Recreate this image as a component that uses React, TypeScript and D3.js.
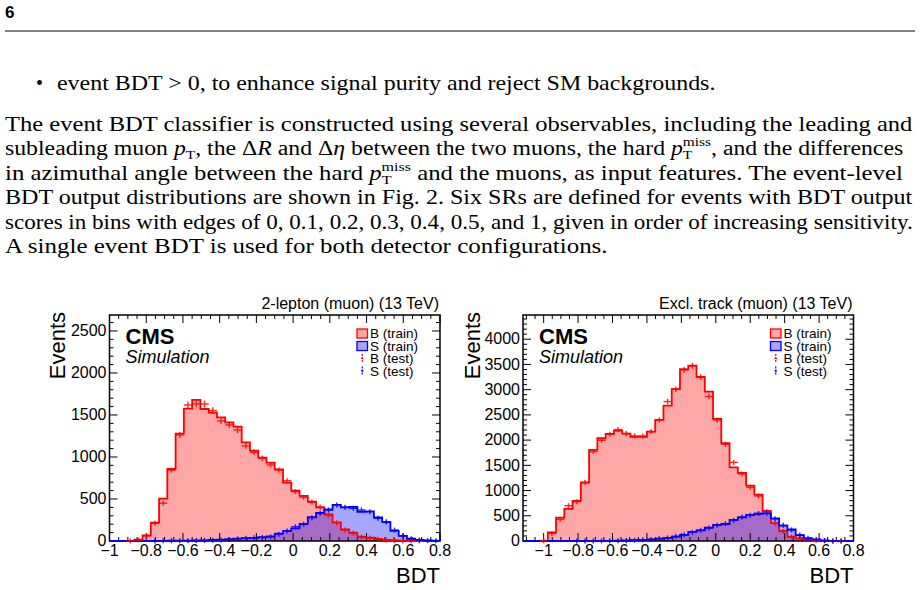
import React, { useLayoutEffect, useRef } from "react";
import * as d3 from "d3";

// ---------------- data ----------------
const N_BINS = 40;
const leftRange = [-1, 0.8];
const rightRange = [-1.12, 0.8];
const leftYMax = 2690;
const rightYMax = 4480;

const xTickValues = [-1, -0.8, -0.6, -0.4, -0.2, 0, 0.2, 0.4, 0.6, 0.8];
const xTickLabels = ["−1", "−0.8", "−0.6", "−0.4", "−0.2", "0", "0.2", "0.4", "0.6", "0.8"];
const leftYTickValues = [0, 500, 1000, 1500, 2000, 2500];
const rightYTickValues = [0, 500, 1000, 1500, 2000, 2500, 3000, 3500, 4000];

const leftBTrain = [0, 0, 2, 15, 67, 218, 504, 857, 1278, 1575, 1679, 1571, 1528, 1472, 1413, 1361, 1175, 1075, 992, 932, 853, 694, 599, 536, 468, 401, 317, 222, 139, 99, 52, 40, 24, 12, 8, 4, 2, 1, 0, 0];
const leftSTrain = [0, 0, 0, 0, 1, 1, 2, 3, 3, 4, 6, 8, 12, 16, 22, 28, 34, 38, 45, 55, 88, 120, 150, 205, 285, 335, 375, 430, 400, 405, 348, 352, 280, 225, 120, 60, 27, 12, 6, 3];
const leftBTest = [0, 0, 1, 12, 60, 212, 450, 843, 1262, 1619, 1631, 1631, 1552, 1429, 1381, 1321, 1131, 1056, 985, 905, 845, 718, 587, 520, 460, 405, 309, 218, 131, 91, 48, 36, 22, 12, 7, 4, 2, 1, 0, 0];
const leftSTest = [0, 0, 0, 0, 0, 1, 2, 2, 3, 4, 5, 7, 9, 13, 18, 25, 32, 38, 42, 50, 80, 118, 170, 200, 278, 330, 369, 429, 401, 389, 369, 349, 270, 230, 131, 60, 28, 12, 5, 2];

const rightBTrain = [0, 0, 8, 172, 463, 635, 794, 1157, 1805, 2037, 2123, 2189, 2130, 2063, 2063, 2169, 2401, 2685, 3009, 3405, 3475, 3255, 2963, 2420, 1938, 1458, 1350, 1098, 918, 595, 355, 198, 86, 53, 33, 20, 7, 2, 1, 0];
const rightSTrain = [0, 0, 0, 0, 0, 0, 0, 1, 1, 2, 3, 5, 10, 15, 22, 33, 45, 62, 88, 120, 180, 210, 265, 317, 337, 417, 470, 516, 540, 548, 450, 304, 228, 115, 50, 30, 8, 3, 1, 0];
const rightBTest = [0, 0, 5, 150, 430, 700, 780, 1164, 1772, 1997, 2116, 2209, 2130, 2083, 2083, 2169, 2401, 2764, 3009, 3393, 3472, 3247, 2863, 2401, 1918, 1558, 1329, 1064, 893, 583, 350, 190, 80, 50, 30, 18, 6, 2, 1, 0];
const rightSTest = [0, 0, 0, 0, 0, 0, 1, 1, 2, 2, 4, 6, 9, 16, 24, 30, 48, 60, 92, 125, 172, 215, 260, 312, 345, 410, 478, 510, 545, 550, 440, 310, 220, 118, 55, 28, 10, 2, 1, 0];

const legendLabels = ["B (train)", "S (train)", "B (test)", "S (test)"];

// ---------------- styles ----------------
const SANS = "'Liberation Sans', Arial, Helvetica, sans-serif";
const SERIF = "'Liberation Serif', 'Times New Roman', serif";
const RED = "#ff0000";
const BLUE = "#0000ff";
const RED_FILL = "rgba(255,0,0,0.35)";
const BLUE_FILL = "rgba(0,0,255,0.35)";

type PanelProps = {
  left: number;
  right: number;
  top: number;
  bottom: number;
  range: number[];
  yMax: number;
  yTicks: number[];
  bTrain: number[];
  sTrain: number[];
  bTest: number[];
  sTest: number[];
  title: string;
  legendX: number;
  eventsX: number;
};

function stepPath(vals: number[], x: d3.ScaleLinear<number, number>, y: d3.ScaleLinear<number, number>, lo: number, hi: number, close: boolean) {
  const w = (hi - lo) / vals.length;
  const p = d3.path();
  p.moveTo(x(lo), y(0));
  vals.forEach((v, i) => {
    p.lineTo(x(lo + i * w), y(v));
    p.lineTo(x(lo + (i + 1) * w), y(v));
  });
  p.lineTo(x(hi), y(0));
  if (close) p.closePath();
  return p.toString();
}

function Panel(props: PanelProps) {
  const { left, right, top, bottom, range, yMax, yTicks, bTrain, sTrain, bTest, sTest, title, legendX, eventsX } = props;
  const [lo, hi] = range;
  const x = d3.scaleLinear().domain([lo, hi]).range([left, right]);
  const y = d3.scaleLinear().domain([0, yMax]).range([bottom, top]);
  const w = (hi - lo) / N_BINS;

  const xMinor: number[] = [];
  for (let k = Math.ceil(lo / 0.05 - 1e-6); k <= Math.floor(hi / 0.05 + 1e-6); k++) {
    const v = k * 0.05;
    if (Math.abs(v / 0.2 - Math.round(v / 0.2)) > 1e-6) xMinor.push(v);
  }
  const yMinor: number[] = [];
  for (let v = 100; v <= yMax; v += 100) if (v % 500 !== 0) yMinor.push(v);

  const crosses = (vals: number[], color: string) =>
    vals.map((v, i) => {
      if (v <= 0) return null;
      const e = Math.sqrt(v);
      const xa = x(lo + i * w);
      const xb = x(lo + (i + 1) * w);
      const xc = (xa + xb) / 2;
      const h = Math.max(2.5, y(0) - y(e));
      return (
        <g key={i} stroke={color} strokeWidth={1.4} opacity={0.85}>
          <line x1={xa} x2={xb} y1={y(v)} y2={y(v)} />
          <line x1={xc} x2={xc} y1={y(v) - h} y2={y(v) + h} />
        </g>
      );
    });

  const MAJ = 8;
  const MIN = 4;
  const rowY = [333.5, 346, 358.5, 371];

  return (
    <g>
      <path d={stepPath(bTrain, x, y, lo, hi, true)} fill={RED_FILL} stroke="none" />
      <path d={stepPath(sTrain, x, y, lo, hi, true)} fill={BLUE_FILL} stroke="none" />

      <g stroke="#000" strokeWidth={1}>
        {xTickValues.map((v) => (
          <g key={"xM" + v}>
            <line x1={x(v)} x2={x(v)} y1={bottom} y2={bottom - MAJ} />
            <line x1={x(v)} x2={x(v)} y1={top} y2={top + MAJ} />
          </g>
        ))}
        {xMinor.map((v) => (
          <g key={"xm" + v}>
            <line x1={x(v)} x2={x(v)} y1={bottom} y2={bottom - MIN} />
            <line x1={x(v)} x2={x(v)} y1={top} y2={top + MIN} />
          </g>
        ))}
        {yTicks.map((v) => (
          <g key={"yM" + v}>
            <line x1={left} x2={left + MAJ} y1={y(v)} y2={y(v)} />
            <line x1={right} x2={right - MAJ} y1={y(v)} y2={y(v)} />
          </g>
        ))}
        {yMinor.map((v) => (
          <g key={"ym" + v}>
            <line x1={left} x2={left + MIN} y1={y(v)} y2={y(v)} />
            <line x1={right} x2={right - MIN} y1={y(v)} y2={y(v)} />
          </g>
        ))}
      </g>
      <rect x={left} y={top} width={right - left} height={bottom - top} fill="none" stroke="#000" strokeWidth={1.5} />

      <path d={stepPath(bTrain, x, y, lo, hi, false)} fill="none" stroke={RED} strokeWidth={1.8} />
      <path d={stepPath(sTrain, x, y, lo, hi, false)} fill="none" stroke={BLUE} strokeWidth={1.8} />
      {crosses(bTest, RED)}
      {crosses(sTest, BLUE)}

      <g fontFamily={SANS} fontSize={16} fill="#000">
        {xTickValues.map((v, i) => (
          <text key={"xl" + v} x={x(v)} y={556} textAnchor="middle">
            {xTickLabels[i]}
          </text>
        ))}
        {yTicks.map((v) => (
          <text key={"yl" + v} x={left - 3} y={y(v)} dy="0.33em" textAnchor="end">
            {v}
          </text>
        ))}
      </g>

      <text x={right} y={583} textAnchor="end" fontFamily={SANS} fontSize={22}>
        BDT
      </text>
      <text transform={`translate(${eventsX},${top - 3}) rotate(-90)`} textAnchor="end" fontFamily={SANS} fontSize={22}>
        Events
      </text>
      <text x={right - 1} y={309} textAnchor="end" fontFamily={SANS} fontSize={16}>
        {title}
      </text>

      <text x={left + 16} y={343.5} fontFamily={SANS} fontSize={22} fontWeight="bold">
        CMS
      </text>
      <text x={left + 16} y={362.5} fontFamily={SANS} fontSize={18} fontStyle="italic">
        Simulation
      </text>

      <g fontFamily={SANS} fontSize={13.5}>
        <rect x={legendX} y={rowY[0] - 4.5} width={10.5} height={9} fill={RED_FILL} stroke={RED} strokeWidth={1.3} />
        <rect x={legendX} y={rowY[1] - 4.5} width={10.5} height={9} fill={BLUE_FILL} stroke={BLUE} strokeWidth={1.3} />
        {[RED, BLUE].map((c, k) => (
          <g key={c} stroke={c} strokeWidth={1.2}>
            <line x1={legendX + 5.25} x2={legendX + 5.25} y1={rowY[2 + k] - 4.5} y2={rowY[2 + k] + 4.5} strokeDasharray="2,1" />
            <line x1={legendX + 4} x2={legendX + 6.5} y1={rowY[2 + k]} y2={rowY[2 + k]} />
          </g>
        ))}
        {legendLabels.map((t, k) => (
          <text key={t} x={legendX + 13} y={rowY[k]} dy="0.36em">
            {t}
          </text>
        ))}
      </g>
    </g>
  );
}

// A line of body text, stretched horizontally to a target width (justified look)
function JLine({ x, y, width, children }: { x: number; y: number; width: number; children: React.ReactNode }) {
  const ref = useRef<SVGTextElement>(null);
  useLayoutEffect(() => {
    const el = ref.current;
    if (!el) return;
    el.removeAttribute("transform");
    const natural = el.getComputedTextLength();
    if (natural > 0) {
      const s = width / natural;
      el.setAttribute("transform", `translate(${x},0) scale(${s},1) translate(${-x},0)`);
    }
  }, [x, width]);
  return (
    <text ref={ref} x={x} y={y}>
      {children}
    </text>
  );
}

function PT({ miss, after }: { miss?: boolean; after: string }) {
  return (
    <>
      <tspan fontStyle="italic">p</tspan>
      <tspan dy={4} fontSize={13}>T</tspan>
      {miss ? (
        <>
          <tspan dx={-8} dy={-13} fontSize={13}>miss</tspan>
          <tspan dy={9}>{after}</tspan>
        </>
      ) : (
        <tspan dy={-4}>{after}</tspan>
      )}
    </>
  );
}

export default function App() {
  const L = 5;
  const lineW = 908;
  return (
    <svg
      width={920}
      height={590}
      viewBox="0 0 920 590"
      style={{ position: "absolute", left: 0, top: 0, background: "#fff" }}
    >
      <rect x={0} y={0} width={920} height={590} fill="#fff" />
      <text x={5} y={18} fontFamily={SANS} fontWeight="bold" fontSize={17}>
        6
      </text>
      <line x1={5} x2={915} y1={31} y2={31} stroke="#000" strokeWidth={1} />

      <g fontFamily={SERIF} fontSize={20} fill="#000">
        <text x={36} y={90}>•</text>
        <JLine x={57} y={90} width={659}>
          {"event BDT > 0, to enhance signal purity and reject SM backgrounds."}
        </JLine>

        <JLine x={L} y={131} width={lineW}>
          {"The event BDT classifier is constructed using several observables, including the leading and"}
        </JLine>
        <JLine x={L} y={155.5} width={lineW}>
          {"subleading muon "}
          <PT after={", the Δ"} />
          <tspan fontStyle="italic">R</tspan>
          {" and Δ"}
          <tspan fontStyle="italic">η</tspan>
          {" between the two muons, the hard "}
          <PT miss after={", and the differences"} />
        </JLine>
        <JLine x={L} y={180} width={lineW}>
          {"in azimuthal angle between the hard "}
          <PT miss after={" and the muons, as input features.  The event-level"} />
        </JLine>
        <JLine x={L} y={204.5} width={lineW}>
          {"BDT output distributions are shown in Fig. 2. Six SRs are defined for events with BDT output"}
        </JLine>
        <JLine x={L} y={229} width={lineW}>
          {"scores in bins with edges of 0, 0.1, 0.2, 0.3, 0.4, 0.5, and 1, given in order of increasing sensitivity."}
        </JLine>
        <JLine x={L} y={253.5} width={603}>
          {"A single event BDT is used for both detector configurations."}
        </JLine>
      </g>

      <Panel
        left={109.5}
        right={440}
        top={315}
        bottom={541}
        range={leftRange}
        yMax={leftYMax}
        yTicks={leftYTickValues}
        bTrain={leftBTrain}
        sTrain={leftSTrain}
        bTest={leftBTest}
        sTest={leftSTest}
        title="2-lepton (muon) (13 TeV)"
        legendX={357}
        eventsX={65}
      />
      <Panel
        left={523}
        right={853.5}
        top={315}
        bottom={541}
        range={rightRange}
        yMax={rightYMax}
        yTicks={rightYTickValues}
        bTrain={rightBTrain}
        sTrain={rightSTrain}
        bTest={rightBTest}
        sTest={rightSTest}
        title="Excl. track (muon) (13 TeV)"
        legendX={770.5}
        eventsX={480}
      />
    </svg>
  );
}
